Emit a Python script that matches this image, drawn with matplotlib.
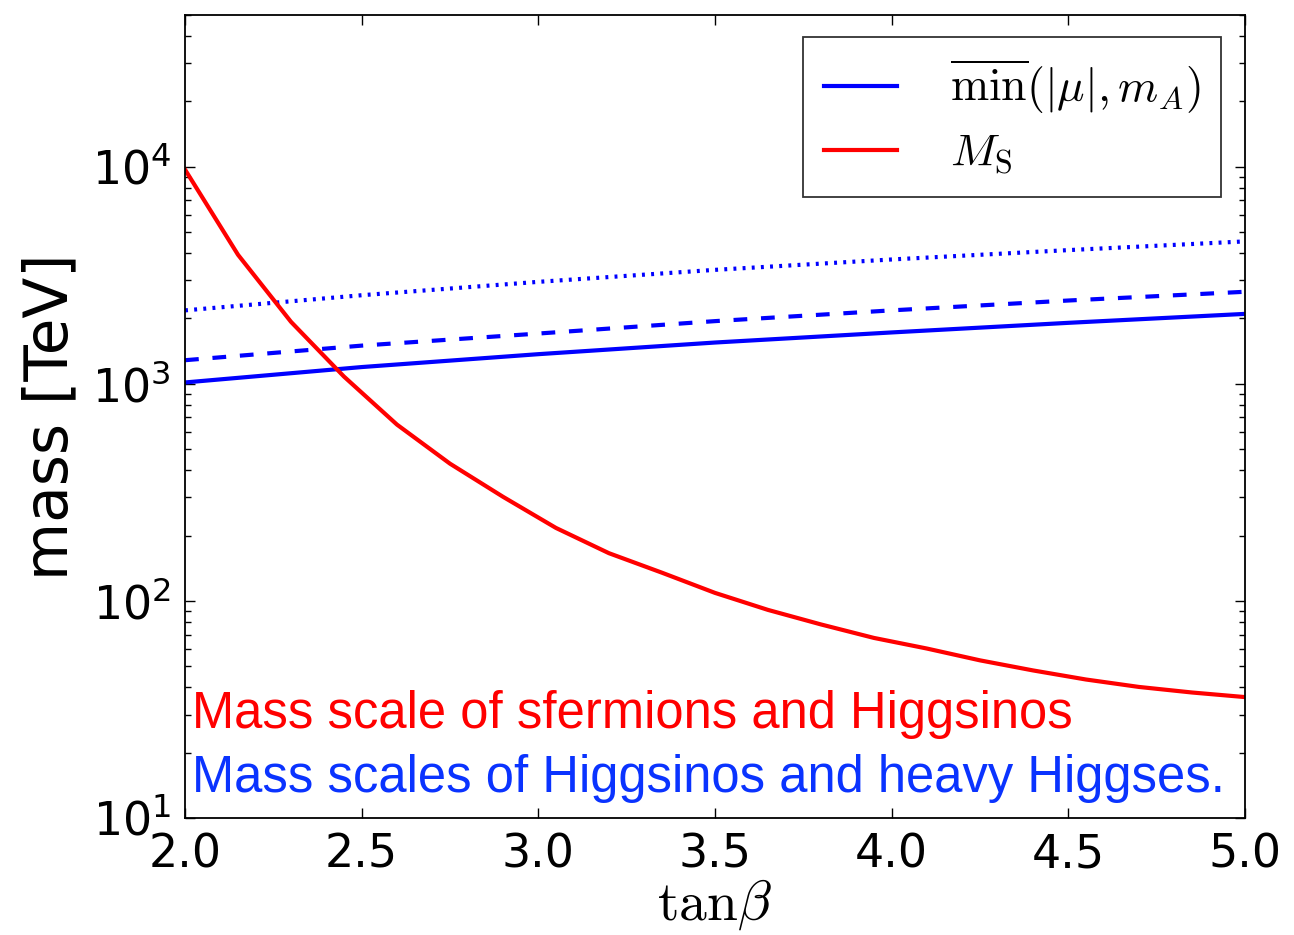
import numpy as np
import matplotlib
matplotlib.use("Agg")
import matplotlib.pyplot as plt

plt.rcParams['mathtext.fontset'] = 'cm'

# M_S (sfermion / Higgsino scale) vs tan(beta)
tb_red = [2.0, 2.15, 2.3, 2.45, 2.6, 2.75, 2.9, 3.05, 3.2, 3.35, 3.5,
          3.65, 3.8, 3.95, 4.1, 4.25, 4.4, 4.55, 4.7, 4.85, 5.0]
ms = [9700, 3930, 1930, 1080, 649, 429, 302, 217, 166, 135, 109,
      91, 78, 67.6, 60.4, 53.3, 47.9, 43.5, 40.2, 37.9, 36.1]

# min(|mu|, m_A) for three choices
tb_blue = [2.0, 2.5, 3.0, 3.5, 4.0, 4.5, 5.0]
mu_solid = [1015, 1195, 1370, 1550, 1725, 1910, 2100]
mu_dashed = [1285, 1500, 1705, 1945, 2180, 2420, 2655]
mu_dotted = [2180, 2560, 2950, 3350, 3740, 4130, 4530]

fig = plt.figure(figsize=(12.94, 9.35), dpi=100)
ax = fig.add_axes([0.143, 0.125, 0.819, 0.859])

l1, = ax.plot(tb_blue, mu_solid, color='blue', lw=3)
ax.plot(tb_blue, mu_dashed, color='blue', lw=3, linestyle=(0, (3.3, 3.3)))
ax.plot(tb_blue, mu_dotted, color='blue', lw=3, linestyle=(0, (0.7, 1.5)))
l2, = ax.plot(tb_red, ms, color='red', lw=3)

ax.set_yscale('log')
ax.set_xlim(2.0, 5.0)
ax.set_ylim(10, 5e4)
ax.set_xticks(np.arange(2.0, 5.01, 0.5))
ax.tick_params(which='both', direction='in', top=True, right=True, labelsize=33)
ax.tick_params(which='major', length=7, width=1, pad=10)
ax.tick_params(which='minor', length=4, width=1)
for s in ax.spines.values():
    s.set_linewidth(1.3)

ax.set_xlabel(r'$\mathrm{tan}\beta$', fontsize=40, labelpad=0)
ax.set_ylabel('mass [TeV]', fontsize=43, labelpad=8)

leg = ax.legend([l1, l2], [r'$\overline{\mathrm{min}}(|\mu|, m_A)$', r'$M_{\mathrm{S}}$'],
                loc='upper right', bbox_to_anchor=(0.9774, 0.9726), borderaxespad=0,
                fontsize=33, handlelength=1.6, handletextpad=1.15,
                labelspacing=0.32, borderpad=0.45, fancybox=False)
leg.get_frame().set_edgecolor('black')
leg.get_frame().set_linewidth(1.3)

ax.text(0.007, 0.112, 'Mass scale of sfermions and Higgsinos', transform=ax.transAxes,
        color='red', fontsize=36.5, family='Liberation Sans')
ax.text(0.007, 0.033, 'Mass scales of Higgsinos and heavy Higgses.', transform=ax.transAxes,
        color='#0a33ff', fontsize=36.5, family='Liberation Sans')

fig.savefig('out.png', dpi=100, facecolor='white')
